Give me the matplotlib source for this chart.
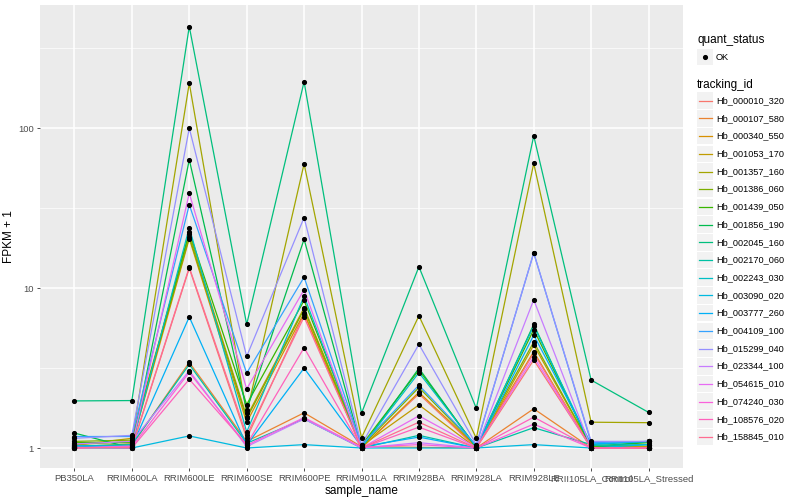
import numpy as np
import matplotlib
matplotlib.use("Agg")
from matplotlib import pyplot as plt
from matplotlib.patches import Rectangle

plt.rcParams['font.family'] = ['Liberation Sans', 'DejaVu Sans']

samples = ["PB350LA", "RRIM600LA", "RRIM600LE", "RRIM600SE", "RRIM600PE",
           "RRIM901LA", "RRIM928BA", "RRIM928LA", "RRIM928LE",
           "RRII105LA_Control", "RRII105LA_Stressed"]

tracking_ids = ["Hb_000010_320", "Hb_000107_580", "Hb_000340_550", "Hb_001053_170",
                "Hb_001357_160", "Hb_001386_060", "Hb_001439_050", "Hb_001856_190",
                "Hb_002045_160", "Hb_002170_060", "Hb_002243_030", "Hb_003090_020",
                "Hb_003777_260", "Hb_004109_100", "Hb_015299_040", "Hb_023344_100",
                "Hb_054615_010", "Hb_074240_030", "Hb_108576_020", "Hb_158845_010"]

colors = ["#F8766D", "#EA8331", "#D89000", "#C09B00", "#A3A500", "#7CAE00",
          "#39B600", "#00BB4E", "#00BF7D", "#00C1A3", "#00BFC4", "#00BAE0",
          "#00B0F6", "#35A2FF", "#9590FF", "#C77CFF", "#E76BF3", "#FA62DB",
          "#FF62BC", "#FF6C91"]

# FPKM + 1 per sample, in tracking_ids order
pb350la = [1.01, 1.0, 1.02, 1.04, 1.05, 1.1, 1.08, 1.24, 1.97, 1.03,
           1.02, 1.0, 1.03, 1.18, 1.15, 1.06, 1.0, 1.0, 1.01, 1.0]
rrim600la = [1.0, 1.04, 1.06, 1.15, 1.1, 1.12, 1.08, 1.0, 1.98, 1.05,
             1.04, 1.0, 1.02, 1.18, 1.2, 1.1, 1.03, 1.02, 1.0, 1.01]
rrim600le = [13.3, 3.43, 20.4, 21.8, 191, 20.9, 22.5, 63.5, 432, 3.33,
             23.9, 1.19, 6.6, 33.2, 100, 3.04, 39.2, 2.97, 2.69, 13.5]
rrim600se = [1.15, 1.1, 1.445, 1.57, 1.65, 1.53, 1.87, 1.73, 5.93, 1.07,
             1.26, 1.0, 1.04, 2.94, 3.74, 1.02, 2.34, 1.04, 1.05, 1.2]
rrim600pe = [6.9, 1.66, 7.0, 7.53, 59.8, 7.36, 8.37, 20.2, 195, 1.52,
             8.9, 1.05, 3.16, 11.7, 27.6, 1.52, 9.77, 1.55, 4.24, 6.6]
rrim901la = [1.0, 1.02, 1.0, 1.03, 1.16, 1.02, 1.04, 1.0, 1.65, 1.0,
             1.01, 1.0, 1.02, 1.04, 1.05, 1.0, 1.0, 1.01, 1.0, 1.0]
rrim928ba = [2.18, 1.01, 2.23, 1.86, 6.71, 2.39, 3.07, 3.15, 13.6, 1.2,
             2.96, 1.0, 1.17, 2.47, 4.45, 1.08, 1.59, 1.05, 1.35, 1.45]
rrim928la = [1.0, 1.0, 1.02, 1.0, 1.15, 1.03, 1.01, 1.0, 1.77, 1.0,
             1.02, 1.0, 1.0, 1.04, 1.05, 1.0, 1.01, 1.0, 1.0, 1.0]
rrim928le = [3.55, 1.76, 4.0, 4.4, 60.2, 4.6, 5.5, 5.93, 89.5, 1.34,
             5.79, 1.05, 5.08, 16.6, 16.6, 8.45, 3.7, 1.41, 1.56, 3.91]
rrii105_control = [1.0, 1.0, 1.0, 1.02, 1.45, 1.02, 1.03, 1.0, 2.66, 1.05,
                   1.04, 1.0, 1.06, 1.08, 1.1, 1.0, 1.0, 1.0, 1.0, 1.0]
rrii105_stressed = [1.0, 1.0, 1.0, 1.02, 1.44, 1.05, 1.08, 1.1, 1.67, 1.1,
                    1.05, 1.05, 1.1, 1.1, 1.1, 1.0, 1.0, 1.0, 1.0, 1.0]

values = np.column_stack([pb350la, rrim600la, rrim600le, rrim600se, rrim600pe,
                          rrim901la, rrim928ba, rrim928la, rrim928le,
                          rrii105_control, rrii105_stressed])

fig = plt.figure(figsize=(8, 5), dpi=100)
ax = fig.add_axes([40 / 800, 32 / 500, 643 / 800, 463 / 500])
ax.set_facecolor("#EBEBEB")
for s in ax.spines.values():
    s.set_visible(False)

x = np.arange(len(samples))
for i, tid in enumerate(tracking_ids):
    ax.plot(x, values[i], color=colors[i], lw=0.9, zorder=3)
for i in range(len(tracking_ids)):
    ax.plot(x, values[i], ls="none", marker="o", ms=2.7, color="black", zorder=4)

ax.set_yscale("log")
ax.set_ylim(10 ** -0.125, 10 ** 2.77)
ax.set_xlim(-0.6, len(samples) - 0.4)

# ggplot-style grid
for v in [1, 10, 100]:
    ax.axhline(v, color="white", lw=1.1, zorder=1)
for v in [10 ** 0.5, 10 ** 1.5, 10 ** 2.5]:
    ax.axhline(v, color="white", lw=0.5, zorder=1)
for xi in x:
    ax.axvline(xi, color="white", lw=1.1, zorder=1)

ax.set_yticks([1, 10, 100])
ax.set_yticklabels(["1", "10", "100"])
ax.yaxis.set_minor_locator(matplotlib.ticker.NullLocator())
ax.set_xticks(x)
ax.set_xticklabels(samples)
ax.tick_params(axis="both", colors="#333333", labelcolor="#4D4D4D",
               labelsize=6.8, length=2.5, width=0.6, pad=2)
ax.set_xlabel("sample_name", fontsize=8.5, labelpad=1)
ax.set_ylabel("FPKM + 1", fontsize=8.5, labelpad=2)

# legend drawn in pixel coordinates
lax = fig.add_axes([690 / 800, 0, 110 / 800, 1])
lax.set_xlim(0, 110)
lax.set_ylim(500, 0)
lax.axis("off")

lax.text(7, 40, "quant_status", fontsize=8.5, va="center", ha="left")
lax.add_patch(Rectangle((7, 49), 16, 16, color="#F2F2F2", lw=0))
lax.plot([15], [57], marker="o", ms=2.7, color="black")
lax.text(26, 57, "OK", fontsize=6.7, va="center", ha="left")

lax.text(7, 85, "tracking_id", fontsize=8.5, va="center", ha="left")
step = 17.7
for i, tid in enumerate(tracking_ids):
    yc = 100.7 + i * step
    lax.add_patch(Rectangle((7, yc - 8.3), 16, 16.6, color="#F2F2F2", lw=0))
    lax.plot([8.5, 21.5], [yc, yc], color=colors[i], lw=0.9)
    lax.text(26, yc, tid, fontsize=6.6, va="center", ha="left")

fig.savefig("out.png", dpi=100)
